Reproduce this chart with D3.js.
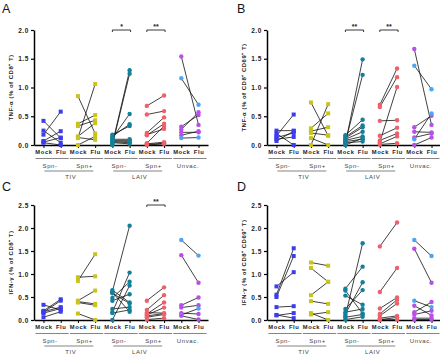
<!DOCTYPE html>
<html>
<head>
<meta charset="utf-8">
<script src="https://cdn.jsdelivr.net/npm/d3@7"></script>
<style>
  body { margin: 0; background: #fff; }
  svg { display: block; font-family: "Liberation Sans", Arial, sans-serif; }
  svg text { opacity: 0.99; }
</style>
</head>
<body>
<div id="chart"></div>
<script>
// groups along the x axis
const groupNames = ["Spn-", "Spn+", "Spn-", "Spn+", "Unvac."];
const pairLabels = ["Mock", "Flu"];
const vaccineLabels = ["TIV", "LAIV"];
const groupColors = ["#3c3cee", "#c8c41c", "#13809a", "#f0606a", "#b84fe6"];
const unvacLightColor = "#4da6f2";

// A: TNF-a (% of CD8+ T)
const tnfCd8Mock = [
  [0.42, 0.25, 0.18, 0.07, 0.05, 0.04],
  [0.85, 0.37, 0.33, 0.15, 0.12, 0.13, 0.00],
  [0.02, 0.00, 0.12, 0.15, 0.18, 0.10, 0.08, 0.06, 0.04, 0.05],
  [0.68, 0.53, 0.21, 0.17, 0.18, 0.03, 0.02, 0.01, 0.00],
  [1.54, 1.16, 0.32, 0.27, 0.22, 0.17, 0.12]
];
const tnfCd8Flu = [
  [0.12, 0.04, 0.58, 0.24, 0.13, 0.00],
  [0.20, 0.52, 0.43, 0.38, 1.06, 0.09, 0.15],
  [1.30, 1.24, 0.54, 0.36, 0.33, 0.10, 0.08, 0.04, 0.02, 0.06],
  [0.86, 0.59, 0.48, 0.37, 0.28, 0.33, 0.05, 0.03, 0.02],
  [0.35, 0.70, 0.52, 0.57, 0.22, 0.24, 0.13]
];
const tnfCd8Light = [1, 6];

// B: TNF-a (% of CD8+ CD69+ T)
const tnfCd69Mock = [
  [0.25, 0.20, 0.16, 0.13, 0.10, 0.07],
  [0.74, 0.29, 0.24, 0.21, 0.12, 0.00],
  [0.02, 0.05, 0.17, 0.14, 0.12, 0.10, 0.08, 0.06, 0.04, 0.00],
  [0.70, 0.66, 0.42, 0.16, 0.08, 0.05, 0.02, 0.01],
  [1.67, 1.38, 0.31, 0.23, 0.13, 0.10, 0.00]
];
const tnfCd69Flu = [
  [0.25, 0.00, 0.53, 0.21, 0.14, 0.24],
  [0.16, 0.55, 0.31, 0.17, 0.00, 0.71],
  [1.49, 1.22, 0.44, 0.34, 0.31, 0.23, 0.15, 0.10, 0.06, 0.12],
  [1.33, 1.18, 0.43, 0.30, 0.20, 1.01, 0.15, 0.03],
  [0.35, 0.97, 0.51, 0.22, 0.20, 0.55, 0.13]
];
const tnfCd69Light = [1, 5];

// C: IFN-g (% of CD8+ T)
const ifnCd8Mock = [
  [0.33, 0.20, 0.17, 0.15, 0.06, 0.18],
  [0.85, 0.93, 0.42, 0.40, 0.38, 0.14],
  [0.62, 0.65, 0.58, 0.42, 0.17, 0.24, 0.15, 0.00, 0.48, 0.60],
  [0.42, 0.22, 0.13, 0.11, 0.16, 0.09, 0.06, 0.01],
  [1.74, 1.41, 0.32, 0.27, 0.15, 0.11, 0.09]
];
const ifnCd8Flu = [
  [0.22, 0.45, 0.42, 0.25, 0.18, 0.28],
  [1.43, 0.95, 0.64, 0.35, 0.32, 0.00],
  [2.05, 0.38, 0.36, 0.56, 1.03, 0.28, 0.22, 0.75, 0.83, 0.18],
  [0.71, 0.54, 0.38, 0.27, 0.15, 0.14, 0.12, 0.04],
  [1.40, 0.81, 0.49, 0.32, 0.13, 0.25, 0.01]
];
const ifnCd8Light = [0, 5];

// D: IFN-g (% of CD8+ CD69+ T)
const ifnCd69Mock = [
  [0.73, 0.55, 0.50, 0.28, 0.11, 0.10],
  [1.25, 1.13, 0.54, 0.41, 0.15, 0.12],
  [0.09, 0.68, 0.64, 0.53, 0.24, 0.17, 0.13, 0.06, 0.01],
  [1.60, 0.61, 0.25, 0.13, 0.09, 0.04, 0.00, 0.02],
  [1.74, 1.55, 0.42, 0.31, 0.17, 0.12, 0.04, 0.01]
];
const ifnCd69Flu = [
  [1.04, 1.56, 1.39, 0.30, 0.04, 0.15],
  [1.18, 0.83, 0.83, 0.35, 0.00, 0.17],
  [1.67, 1.16, 0.14, 0.33, 0.65, 0.24, 0.82, 0.12, 0.07],
  [2.12, 1.13, 0.49, 0.44, 0.36, 0.09, 0.06, 0.01],
  [1.39, 0.81, 0.28, 0.10, 0.39, 0.20, 0.04, 0.01]
];
const ifnCd69Light = [0, 2];

const ticksTnf = [0, 0.5, 1.0, 1.5, 2.0];
const ticksIfn = [0, 0.5, 1.0, 1.5, 2.0, 2.5];

const panels = [
  { letter: "A", lx: 2, ly: 13, x0: 34, yTop: 30, yBot: 145, ticks: ticksTnf,
    label: ["TNF-α (% of CD8", "⁺", " T)"], mock: tnfCd8Mock, flu: tnfCd8Flu, light: tnfCd8Light,
    sig: [[2, "*"], [3, "**"]] },
  { letter: "B", lx: 237, ly: 13, x0: 267, yTop: 30, yBot: 145, ticks: ticksTnf,
    label: ["TNF-α (% of CD8", "⁺", " CD69", "⁺", " T)"], mock: tnfCd69Mock, flu: tnfCd69Flu, light: tnfCd69Light,
    sig: [[2, "**"], [3, "**"]] },
  { letter: "C", lx: 2, ly: 191, x0: 34, yTop: 205, yBot: 320, ticks: ticksIfn,
    label: ["IFN-γ (% of CD8", "⁺", " T)"], mock: ifnCd8Mock, flu: ifnCd8Flu, light: ifnCd8Light,
    sig: [[3, "**"]] },
  { letter: "D", lx: 237, ly: 191, x0: 267, yTop: 205, yBot: 320, ticks: ticksIfn,
    label: ["IFN-γ (% of CD8", "⁺", " CD69", "⁺", " T)"], mock: ifnCd69Mock, flu: ifnCd69Flu, light: ifnCd69Light,
    sig: [] }
];

const svg = d3.select("#chart").append("svg")
  .attr("width", 440)
  .attr("height", 355);

const keys = [];
groupNames.forEach((g, i) => pairLabels.forEach(p => keys.push(i + "-" + p)));

panels.forEach(p => {
  const g = svg.append("g");

  g.append("text")
    .attr("x", p.lx).attr("y", p.ly)
    .style("font-size", "12.5px")
    .style("fill", "#111")
    .text(p.letter);

  const x = d3.scalePoint()
    .domain(keys)
    .range([p.x0, p.x0 + 174])
    .padding(0.55);

  const yMax = p.ticks[p.ticks.length - 1];
  const y = d3.scaleLinear()
    .domain([0, yMax])
    .range([p.yBot, p.yTop]);

  // y axis
  const yAxis = g.append("g")
    .attr("transform", `translate(${p.x0},0)`)
    .call(d3.axisLeft(y).tickValues(p.ticks).tickFormat(d3.format(".1f")).tickSize(3).tickSizeOuter(0));
  yAxis.select(".domain").attr("stroke-width", 1.5);
  yAxis.selectAll(".tick line").attr("stroke-width", 1.2);
  yAxis.selectAll(".tick text")
    .attr("x", -5)
    .style("font-size", "6.5px")
    .style("font-weight", "bold")
    .style("letter-spacing", "0.6px")
    .style("fill", "#222");

  // x axis
  const xAxis = g.append("g")
    .attr("transform", `translate(0,${p.yBot})`)
    .call(d3.axisBottom(x).tickSize(3).tickSizeOuter(0).tickFormat(k => k.split("-")[1]));
  xAxis.select(".domain").attr("stroke-width", 1.5);
  xAxis.selectAll(".tick line").attr("stroke-width", 1);
  xAxis.selectAll(".tick text")
    .attr("y", 5)
    .style("font-size", "5.8px")
    .style("font-weight", "bold")
    .style("letter-spacing", "0.6px")
    .style("fill", "#222");

  // y label
  const lab = g.append("text")
    .attr("transform", `translate(${p.x0 - 21},${(p.yTop + p.yBot) / 2}) rotate(-90)`)
    .attr("text-anchor", "middle")
    .style("font-size", "6px")
    .style("font-weight", "bold")
    .style("letter-spacing", "0.5px")
    .style("fill", "#222");
  p.label.forEach(s => lab.append("tspan").text(s));

  // group underlines and labels
  groupNames.forEach((name, i) => {
    const xm = x(i + "-Mock"), xf = x(i + "-Flu");
    const gc = (xm + xf) / 2;
    g.append("line")
      .attr("x1", xm - 8).attr("x2", xf + 8)
      .attr("y1", p.yBot + 13.5).attr("y2", p.yBot + 13.5)
      .attr("stroke", "#777").attr("stroke-width", 0.9);
    g.append("text")
      .attr("x", gc - 2).attr("y", p.yBot + 22.5)
      .attr("text-anchor", "middle")
      .style("font-size", "6px")
      .style("letter-spacing", "0.6px")
      .style("fill", "#444")
      .text(name);
  });

  vaccineLabels.forEach((name, j) => {
    const a = x((2 * j) + "-Mock"), b = x((2 * j + 1) + "-Flu");
    const mid = (a + b) / 2;
    g.append("line")
      .attr("x1", mid - 25).attr("x2", mid + 24)
      .attr("y1", p.yBot + 26).attr("y2", p.yBot + 26)
      .attr("stroke", "#777").attr("stroke-width", 0.9);
    g.append("text")
      .attr("x", mid + 1.5).attr("y", p.yBot + 33.5)
      .attr("text-anchor", "middle")
      .style("font-size", "6px")
      .style("letter-spacing", "0.6px")
      .style("fill", "#444")
      .text(name);
  });

  // paired lines and points
  p.mock.forEach((vals, gi) => {
    const xm = x(gi + "-Mock"), xf = x(gi + "-Flu");
    const pairs = vals.map((v, i) => ({ m: v, f: p.flu[gi][i], i }));
    const colorOf = d => (gi === 4 && p.light.includes(d.i)) ? unvacLightColor : groupColors[gi];

    g.selectAll(null)
      .data(pairs)
      .enter()
      .append("line")
      .attr("x1", xm).attr("y1", d => y(d.m))
      .attr("x2", xf).attr("y2", d => y(d.f))
      .attr("stroke", "#111")
      .attr("stroke-width", 0.8);

    ["m", "f"].forEach(side => {
      const xx = side === "m" ? xm : xf;
      if (gi < 2) {
        g.selectAll(null)
          .data(pairs)
          .enter()
          .append("rect")
          .attr("x", xx - 2).attr("y", d => y(d[side]) - 2)
          .attr("width", 4).attr("height", 4)
          .attr("fill", colorOf);
      } else {
        g.selectAll(null)
          .data(pairs)
          .enter()
          .append("circle")
          .attr("cx", xx).attr("cy", d => y(d[side]))
          .attr("r", 2.2)
          .attr("fill", colorOf);
      }
    });
  });

  // significance brackets
  p.sig.forEach(([gi, stars]) => {
    const a = x(gi + "-Mock"), b = x(gi + "-Flu") + 1;
    const yy = y(yMax);
    g.append("path")
      .attr("d", `M${a},${yy + 2}V${yy}H${b}V${yy + 2}`)
      .attr("fill", "none")
      .attr("stroke", "#222")
      .attr("stroke-width", 0.9);
    g.append("text")
      .attr("x", (a + b) / 2).attr("y", yy - 1)
      .attr("text-anchor", "middle")
      .style("font-size", "7px")
      .style("font-weight", "bold")
      .style("fill", "#222")
      .text(stars);
  });
});
</script>
</body>
</html>
